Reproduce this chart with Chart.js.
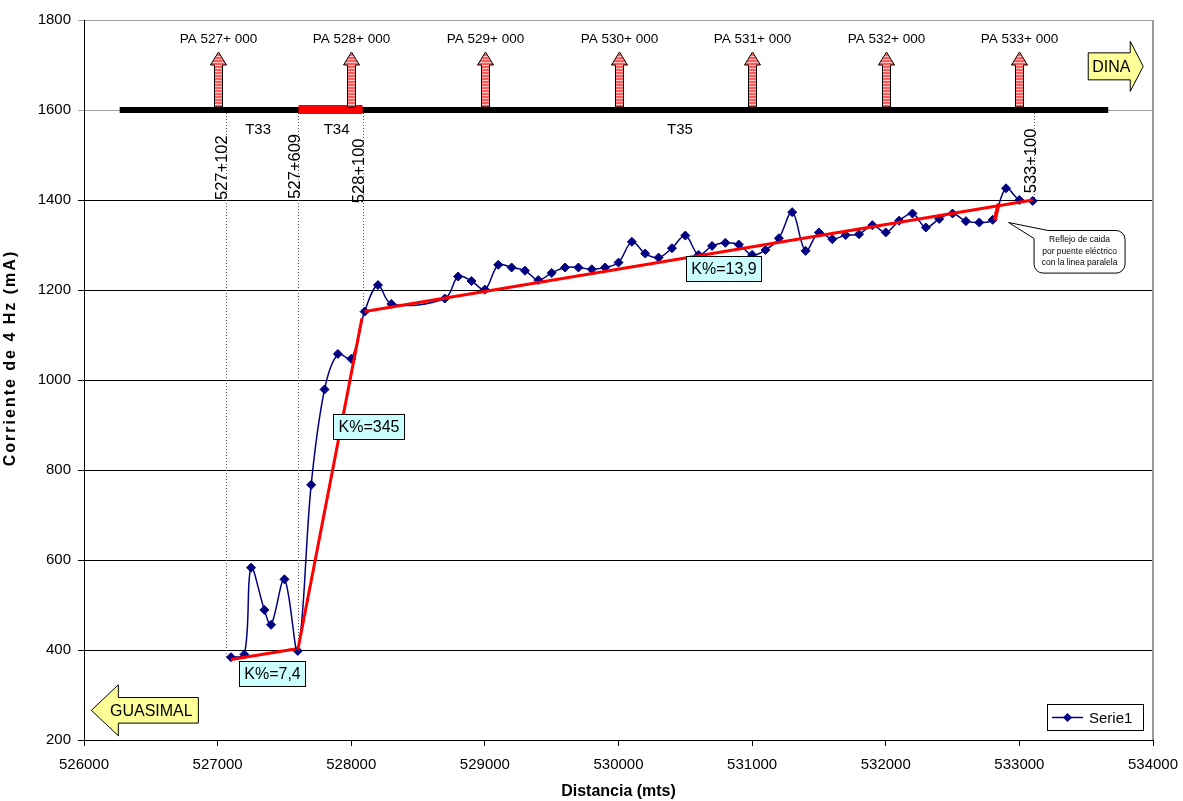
<!DOCTYPE html>
<html>
<head>
<meta charset="utf-8">
<script src="https://cdn.jsdelivr.net/npm/chart.js@4.4.1/dist/chart.umd.min.js"></script>
<style>
html, body { margin: 0; padding: 0; background: #fff; }
</style>
</head>
<body>
<canvas id="myChart" width="1183" height="801"></canvas>
<script>
// measured current (mA) along the pipeline
var dist = [527100, 527200, 527250, 527350, 527400, 527500, 527600, 527700, 527800, 527900, 528000,
    528100, 528200, 528300, 528700, 528800, 528900, 529000,
    529100, 529200, 529300, 529400, 529500, 529600, 529700, 529800, 529900, 530000,
    530100, 530200, 530300, 530400, 530500, 530600, 530700, 530800, 530900, 531000,
    531100, 531200, 531300, 531400, 531500, 531600, 531700, 531800, 531900, 532000,
    532100, 532200, 532300, 532400, 532500, 532600, 532700, 532800, 532900, 533000, 533100];
var current = [384, 390, 583, 489, 456, 557, 398, 767, 979, 1058, 1047,
    1152, 1211, 1169, 1181, 1230, 1220, 1201,
    1256, 1250, 1243, 1222, 1238, 1250, 1250, 1246, 1250, 1261,
    1307, 1281, 1272, 1293, 1321, 1278, 1298, 1305, 1301, 1278,
    1289, 1315, 1373, 1287, 1328, 1313, 1322, 1324, 1344, 1328,
    1354, 1370, 1339, 1358, 1370, 1353, 1350, 1356, 1426, 1400, 1398];

// red trend segments
var trendAx = [527100, 527580], trendAy = [379, 402];
var trendBx = [527600, 528080], trendBy = [400, 1137];
var trendCx = [528100, 533100], trendCy = [1152, 1400];
var trendDx = [532815, 532845], trendDy = [1355, 1392];

var xTicks = [526000, 534000, 1000];
var yTicks = [200, 1800, 200];

// annotations
var stations = [527000, 528000, 529000, 530000, 531000, 532000, 533000];
var stationLabels = ['PA 527+ 000', 'PA 528+ 000', 'PA 529+ 000', 'PA 530+ 000', 'PA 531+ 000', 'PA 532+ 000', 'PA 533+ 000'];
var kmLabels = ['527+102', '527+609', '528+100', '533+100'];
var kmPos = [527060, 527605, 528085, 533110];
var kmEnd = [384, 398, 1152, 1400];
var kmTextY = [1400, 1403, 1393, 1415];
var sections = ['T33', 'T34', 'T35'];
var sectionX = [527303, 527890, 530460];
var kLabels = ['K%=7,4', 'K%=345', 'K%=13,9'];
var kX = [527407, 528127, 530783];
var kY = [348, 896, 1248];

function xy(xs, ys) {
    return xs.map(function (v, i) { return { x: v, y: ys[i] }; });
}

Chart.defaults.font.family = "'Liberation Sans', Arial, sans-serif";
Chart.defaults.color = '#000';

var ctx = document.getElementById('myChart').getContext('2d');

var pc = document.createElement('canvas');
pc.width = 1; pc.height = 3;
var pctx = pc.getContext('2d');
pctx.fillStyle = '#FF5B5B'; pctx.fillRect(0, 0, 1, 2);
pctx.fillStyle = '#FFC4C4'; pctx.fillRect(0, 2, 1, 1);
var stripes = ctx.createPattern(pc, 'repeat');

function blockArrow(c, tipX, cy, dir, len, headLen, headHalf, bodyHalf) {
    var hb = tipX - dir * headLen, tail = tipX - dir * len;
    c.beginPath();
    c.moveTo(tail, cy - bodyHalf);
    c.lineTo(hb, cy - bodyHalf);
    c.lineTo(hb, cy - headHalf);
    c.lineTo(tipX, cy);
    c.lineTo(hb, cy + headHalf);
    c.lineTo(hb, cy + bodyHalf);
    c.lineTo(tail, cy + bodyHalf);
    c.closePath();
    c.fillStyle = '#FFFF99';
    c.fill();
    c.stroke();
}

var annotations = {
    id: 'annotations',
    beforeDatasetsDraw: function (chart) {
        var c = chart.ctx, x = chart.scales.x, y = chart.scales.y;
        c.save();
        c.strokeStyle = '#555';
        c.lineWidth = 1;
        c.setLineDash([1, 2]);
        kmPos.forEach(function (p, i) {
            var px = Math.round(x.getPixelForValue(p)) + 0.5;
            c.beginPath();
            c.moveTo(px, y.getPixelForValue(1600) + 3);
            c.lineTo(px, y.getPixelForValue(kmEnd[i]));
            c.stroke();
        });
        c.restore();
    },
    afterDatasetsDraw: function (chart) {
        var c = chart.ctx, x = chart.scales.x, y = chart.scales.y, area = chart.chartArea;
        var barY = y.getPixelForValue(1600);
        c.save();

        // y axis title (rotated text in the original is spaced wider)
        c.save();
        c.translate(11, (area.top + area.bottom) / 2 - 22);
        c.rotate(-Math.PI / 2);
        c.font = "bold 16px 'Liberation Sans', Arial";
        c.letterSpacing = '2px';
        c.textAlign = 'center';
        c.textBaseline = 'middle';
        c.fillStyle = '#000';
        c.fillText('Corriente de 4 Hz (mA)', 0, 0);
        c.restore();

        // right border of plot area
        c.strokeStyle = '#9a9a9a';
        c.lineWidth = 2;
        c.beginPath();
        c.moveTo(area.right, area.top);
        c.lineTo(area.right, area.bottom);
        c.stroke();

        // pipeline bar
        c.fillStyle = '#000';
        c.fillRect(x.getPixelForValue(526267), barY - 3, x.getPixelForValue(533665) - x.getPixelForValue(526267), 6);
        c.fillStyle = '#FF0000';
        c.fillRect(x.getPixelForValue(527605), barY - 5, x.getPixelForValue(528085) - x.getPixelForValue(527605), 9);

        // station arrows
        c.strokeStyle = '#000';
        c.lineWidth = 1;
        c.font = "13.5px 'Liberation Sans', Arial";
        c.textAlign = 'center';
        c.textBaseline = 'middle';
        stations.forEach(function (s, i) {
            var cx = Math.round(x.getPixelForValue(s)) + 0.5, base = barY - 3;
            c.beginPath();
            c.moveTo(cx - 4, base);
            c.lineTo(cx - 4, base - 42);
            c.lineTo(cx - 8, base - 42);
            c.lineTo(cx, base - 55);
            c.lineTo(cx + 8, base - 42);
            c.lineTo(cx + 4, base - 42);
            c.lineTo(cx + 4, base);
            c.closePath();
            c.fillStyle = stripes;
            c.fill();
            c.stroke();
            c.fillStyle = '#000';
            c.fillText(stationLabels[i], cx, base - 68);
        });

        // section names
        c.font = "15px 'Liberation Sans', Arial";
        sections.forEach(function (t, i) {
            c.fillText(t, x.getPixelForValue(sectionX[i]), y.getPixelForValue(1556));
        });

        // rotated chainage labels
        c.font = "16.5px 'Liberation Sans', Arial";
        kmLabels.forEach(function (t, i) {
            c.save();
            c.translate(x.getPixelForValue(kmPos[i]) + 1.5, y.getPixelForValue(kmTextY[i]));
            c.rotate(-Math.PI / 2);
            c.textAlign = 'left';
            c.textBaseline = 'alphabetic';
            c.fillText(t, 0, 0);
            c.restore();
        });

        // K% boxes
        c.font = "16px 'Liberation Sans', Arial";
        kLabels.forEach(function (t, i) {
            var w = Math.round(c.measureText(t).width + 10), h = 25;
            var bx = Math.round(x.getPixelForValue(kX[i]) - w / 2) + 0.5;
            var by = Math.round(y.getPixelForValue(kY[i]) - h / 2) + 0.5;
            c.fillStyle = '#CCFFFF';
            c.fillRect(bx, by, w, h);
            c.strokeStyle = '#000';
            c.strokeRect(bx, by, w, h);
            c.fillStyle = '#000';
            c.fillText(t, bx + w / 2, by + h / 2 + 1);
        });

        // direction arrows
        c.strokeStyle = '#000';
        var dTip = x.getPixelForValue(533927), dY = y.getPixelForValue(1697);
        blockArrow(c, dTip, dY, 1, 55, 13, 25, 13.5);
        var gTip = x.getPixelForValue(526055), gY = y.getPixelForValue(266);
        blockArrow(c, gTip, gY, -1, 107, 27, 25.5, 12.8);
        c.fillStyle = '#000';
        c.font = "16px 'Liberation Sans', Arial";
        c.fillText('DINA', dTip - 32, dY + 1);
        c.fillText('GUASIMAL', gTip + 60, gY + 1);

        // callout
        var tx = x.getPixelForValue(532919), ty = y.getPixelForValue(1350);
        var L = tx + 25.5, T = ty + 8, R = L + 91, B = T + 42.6, r = 9;
        c.beginPath();
        c.moveTo(L + 14, T);
        c.lineTo(R - r, T);
        c.arcTo(R, T, R, T + r, r);
        c.lineTo(R, B - r);
        c.arcTo(R, B, R - r, B, r);
        c.lineTo(L + r, B);
        c.arcTo(L, B, L, B - r, r);
        c.lineTo(L, T + 8);
        c.lineTo(tx, ty);
        c.closePath();
        c.fillStyle = '#fff';
        c.fill();
        c.strokeStyle = '#000';
        c.stroke();
        c.fillStyle = '#000';
        c.font = "8.5px 'Liberation Sans', Arial";
        ['Reflejo de caida', 'por puente eléctrico', 'con la linea paralela'].forEach(function (t, i) {
            c.fillText(t, L + 45.5, T + 9.5 + i * 11.3);
        });

        // legend
        var ds = chart.data.datasets[0];
        var lR = area.right - 10, lB = area.bottom - 10, lL = lR - 96, lT = lB - 26;
        c.fillStyle = '#fff';
        c.fillRect(lL + 0.5, lT + 0.5, 96, 26);
        c.strokeStyle = '#000';
        c.lineWidth = 1;
        c.strokeRect(lL + 0.5, lT + 0.5, 96, 26);
        var ly = lT + 13.5;
        c.strokeStyle = ds.borderColor;
        c.lineWidth = 1.5;
        c.beginPath();
        c.moveTo(lL + 5, ly);
        c.lineTo(lL + 36, ly);
        c.stroke();
        c.fillStyle = ds.backgroundColor;
        c.beginPath();
        c.moveTo(lL + 20.5, ly - 4.5);
        c.lineTo(lL + 25, ly);
        c.lineTo(lL + 20.5, ly + 4.5);
        c.lineTo(lL + 16, ly);
        c.closePath();
        c.fill();
        c.fillStyle = '#000';
        c.font = "15px 'Liberation Sans', Arial";
        c.textAlign = 'left';
        c.fillText(ds.label, lL + 42, ly + 1);

        c.restore();
    }
};

function trend(xs, ys, w) {
    return {
        label: 'trend',
        data: xy(xs, ys),
        showLine: true,
        borderColor: '#FF0000',
        borderWidth: w,
        pointRadius: 0,
        tension: 0,
        order: 0
    };
}

var myChart = new Chart(ctx, {
    type: 'scatter',
    data: {
        datasets: [{
            label: 'Serie1',
            data: xy(dist, current),
            showLine: true,
            borderColor: '#000080',
            backgroundColor: '#000080',
            borderWidth: 1.5,
            tension: 0.35,
            pointStyle: 'rectRot',
            pointRadius: 4.5,
            pointBorderWidth: 1,
            order: 1
        },
            trend(trendAx, trendAy, 3),
            trend(trendBx, trendBy, 3),
            trend(trendCx, trendCy, 3),
            trend(trendDx, trendDy, 4)
        ]
    },
    options: {
        responsive: false,
        animation: false,
        layout: { padding: { top: 20, right: 30, left: 0, bottom: 0 } },
        plugins: {
            legend: { display: false },
            tooltip: { enabled: false }
        },
        scales: {
            x: {
                type: 'linear',
                min: xTicks[0],
                max: xTicks[1],
                ticks: {
                    stepSize: xTicks[2],
                    padding: 10,
                    font: { size: 15 },
                    callback: function (v) { return String(v); }
                },
                grid: { drawOnChartArea: false, color: '#000', tickLength: 6 },
                border: { color: '#000' },
                title: {
                    display: true,
                    text: 'Distancia (mts)',
                    font: { size: 16, weight: 'bold' },
                    padding: { top: 0, bottom: 0 }
                },
                afterFit: function (s) { s.height = 61; s.paddingLeft = 0; s.paddingRight = 0; }
            },
            y: {
                min: yTicks[0],
                max: yTicks[1],
                ticks: {
                    stepSize: yTicks[2],
                    padding: 7,
                    font: { size: 15 },
                    callback: function (v) { return String(v); }
                },
                grid: {
                    tickLength: 6,
                    color: function (c) { return c.tick && c.tick.value >= 1600 ? '#a0a0a0' : '#000'; }
                },
                border: { color: '#000' },
                afterFit: function (s) { s.width = 84; }
            }
        }
    },
    plugins: [annotations]
});
</script>
</body>
</html>
